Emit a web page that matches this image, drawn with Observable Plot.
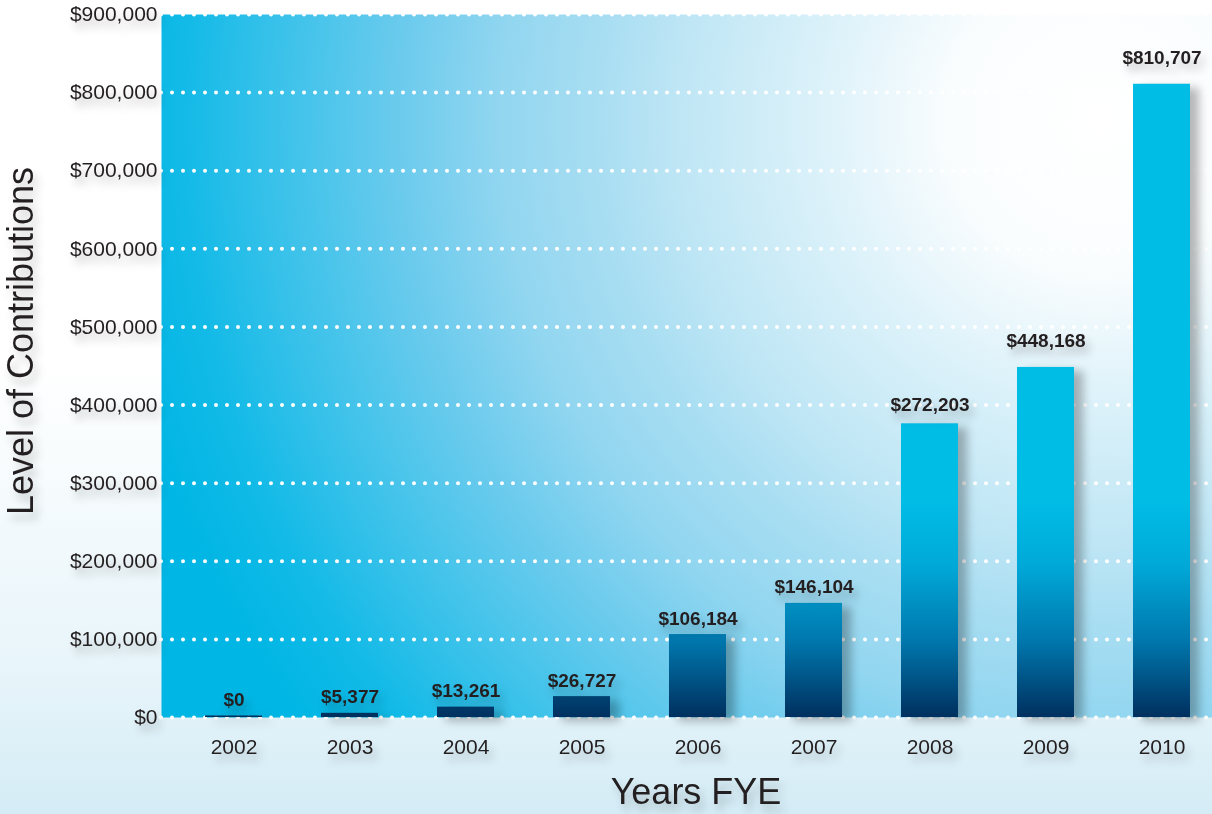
<!DOCTYPE html>
<html><head><meta charset="utf-8">
<script src="https://cdn.jsdelivr.net/npm/d3@7"></script>
<script src="https://cdn.jsdelivr.net/npm/@observablehq/plot@0.6"></script>
<style>
html,body{margin:0;padding:0;background:#fff;}
#chart{width:1212px;height:814px;overflow:hidden;}
</style></head><body><div id="chart"></div>
<script>
// ---- data ----
const years = ["2002", "2003", "2004", "2005", "2006", "2007", "2008", "2009", "2010"];
const barHeights = [2000, 5377, 13261, 26727, 106184, 146104, 376000, 448168, 810707];
const valueLabels = ["$0", "$5,377", "$13,261", "$26,727", "$106,184", "$146,104", "$272,203", "$448,168", "$810,707"];
const yTicks = [0, 100000, 200000, 300000, 400000, 500000, 600000, 700000, 800000, 900000];
const xTitle = "Years FYE";
const yTitle = "Level of Contributions";

const rows = years.map((year, i) => ({year, value: barHeights[i], label: valueLabels[i], i}));
const ink = "#231f20";

const chart = Plot.plot({
  width: 1212,
  height: 814,
  marginLeft: 161,
  marginRight: 0,
  marginTop: 14,
  marginBottom: 97,
  style: {
    background: "linear-gradient(to bottom, #ffffff 0%, #ffffff 45%, #e8f5fa 82%, #d4ecf6 100%)",
    fontFamily: "'Liberation Sans', Arial, Helvetica, sans-serif",
    fontSize: "21px",
    color: ink,
    overflow: "visible"
  },
  x: {domain: years, paddingInner: 0.51, paddingOuter: 0.27, align: 0.669},
  y: {domain: [0, 900000]},
  marks: [
    Plot.frame({fill: "url(#areaGrad)", stroke: "none"}),
    Plot.ruleY(yTicks, {stroke: "white", strokeWidth: 4, strokeDasharray: "0 11", strokeLinecap: "round"}),
    Plot.barY(rows, {x: "year", y: "value", fill: "url(#barGrad)"}),
    Plot.text(rows, {filter: d => d.i < 6, x: "year", y: "value", text: "label", lineAnchor: "bottom", dy: -10, fontWeight: "bold", fontSize: 19, fill: ink}),
    Plot.text(rows, {filter: d => d.i === 6, x: "year", y: "value", text: "label", lineAnchor: "bottom", dy: -13, fontWeight: "bold", fontSize: 19, fill: ink}),
    Plot.text(rows, {filter: d => d.i > 6, x: "year", y: "value", text: "label", lineAnchor: "bottom", dy: -20, fontWeight: "bold", fontSize: 19, fill: ink}),
    Plot.axisY({ticks: yTicks, tickFormat: d3.format("$,"), tickSize: 0, tickPadding: 4, label: null, fontSize: 21, fill: ink}),
    Plot.axisX({tickSize: 0, tickPadding: 22, label: null, fontSize: 21, fill: ink}),
    Plot.text([xTitle], {frameAnchor: "bottom", dx: 9, dy: 86, lineAnchor: "bottom", fontSize: 36, fill: ink}),
    Plot.text([yTitle], {frameAnchor: "left", rotate: -90, dx: -154, dy: -25, textAnchor: "middle", lineAnchor: "top", fontSize: 36, fill: ink})
  ]
});

// gradients
const svg = d3.select(chart);
const defs = svg.insert("defs", ":first-child");
const area = defs.append("radialGradient")
  .attr("id", "areaGrad")
  .attr("gradientUnits", "userSpaceOnUse")
  .attr("cx", 1100).attr("cy", 120).attr("r", 1000);
[[0, "#ffffff"], [0.15, "#fafdfe"], [0.3, "#d8f0f9"], [0.42, "#bfe6f5"], [0.5, "#a9def2"], [0.6, "#92d6f0"], [0.7, "#6ccbed"], [0.82, "#3cc2ea"], [0.92, "#12bae7"], [1, "#00b6e4"]]
  .forEach(([o, c]) => area.append("stop").attr("offset", o).attr("stop-color", c));
const bar = defs.append("linearGradient")
  .attr("id", "barGrad")
  .attr("gradientUnits", "userSpaceOnUse")
  .attr("x1", 0).attr("y1", 500).attr("x2", 0).attr("y2", 717);
[[0, "#00bde6"], [0.3, "#00a9d8"], [0.65, "#0077ad"], [1, "#00305f"]]
  .forEach(([o, c]) => bar.append("stop").attr("offset", o).attr("stop-color", c));

// soft drop shadows like the reference
svg.selectAll('g[aria-label="bar"]').style("filter", "drop-shadow(9px 4px 5px rgba(0,0,0,0.28))");
svg.selectAll('g[aria-label="text"], g[aria-label="y-axis tick label"], g[aria-label="x-axis tick label"]')
  .style("filter", "drop-shadow(4px 7px 4px rgba(0,0,0,0.22))");

document.getElementById("chart").appendChild(chart);
</script>
</body></html>
